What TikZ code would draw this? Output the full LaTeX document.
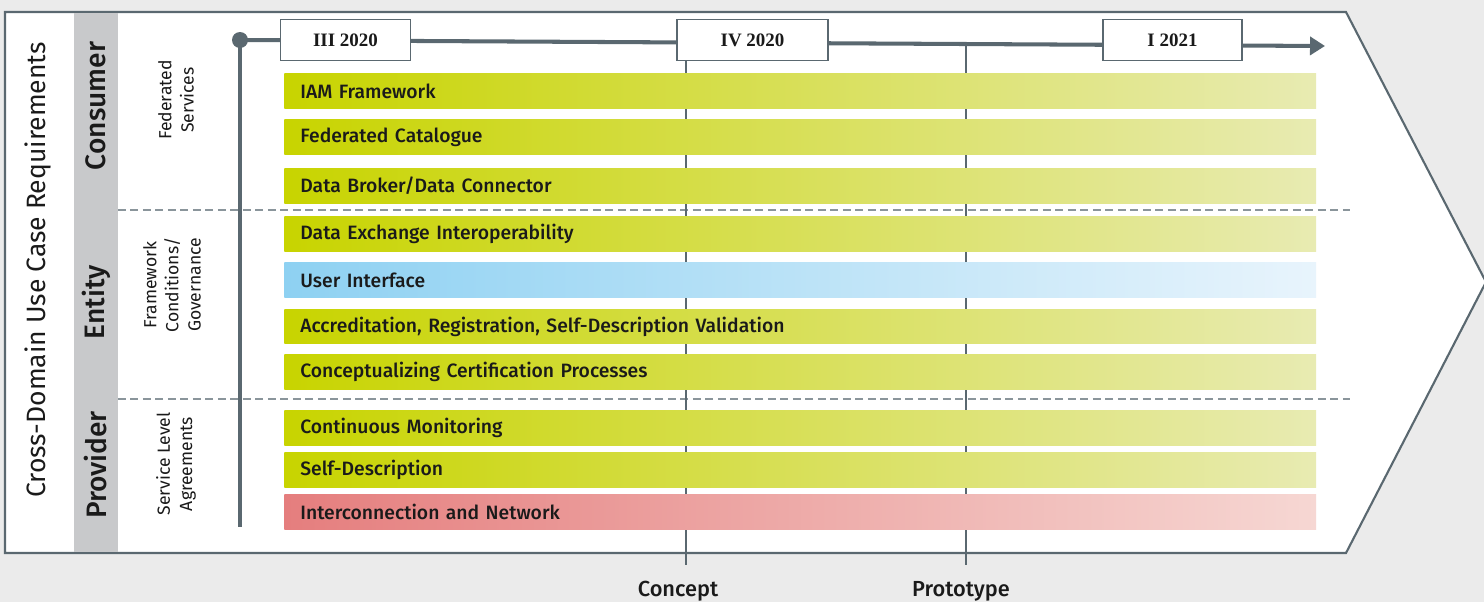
\documentclass[tikz,border=0pt]{standalone}
\usepackage{xcolor}
\usepackage{fontspec}
\setmainfont{Fira Sans}
\newfontfamily\barfont{Fira Sans Medium}
\newfontfamily\boxfont{Liberation Serif}
\usepackage{tikz}
\usetikzlibrary{arrows.meta,positioning}

\definecolor{slate}{HTML}{5A6870}
\definecolor{dashgray}{HTML}{8A959B}
\definecolor{colgray}{HTML}{C8C9CB}
\definecolor{bggray}{HTML}{EBEBEB}
\definecolor{greenL}{HTML}{C8D400}
\definecolor{greenR}{HTML}{E8EBB2}
\definecolor{blueL}{HTML}{8ED1F2}
\definecolor{blueR}{HTML}{E8F4FC}
\definecolor{redL}{HTML}{E57E7E}
\definecolor{redR}{HTML}{F6D7D3}
\definecolor{ink}{HTML}{1A1A1A}

\begin{document}
\begin{tikzpicture}[x=0.02cm, y=-0.02cm,
	outline/.style={draw=slate, line width=1.2pt},
	role/.style={rotate=90, font=\barfont\fontsize{16}{18}\selectfont, text=ink},
	area/.style={rotate=90, align=center, font=\fontsize{10}{12.6}\selectfont, text=ink},
	divider/.style={dashgray, line width=1.1pt, dash pattern=on 0.16cm off 0.09cm},
	axis/.style={slate, line width=2.3pt},
	mile/.style={slate, line width=1.1pt},
	quarter/.style={draw=slate, fill=white, line width=1.1pt, minimum width=2.6cm, minimum height=0.82cm, font=\boxfont\bfseries\fontsize{10.8}{12}\selectfont, text=ink},
	milestone/.style={font=\barfont\fontsize{12.4}{14}\selectfont, text=ink},
	bar/.style={anchor=west, minimum width=20.64cm, minimum height=0.69cm, text width=20cm, inner xsep=0.32cm, inner ysep=0, align=left, font=\barfont\fontsize{11}{13}\selectfont, text=ink},
	greenbar/.style={bar, left color=greenL, right color=greenR},
	]
	% Paths, nodes and wires:
	\fill[bggray] (0,0) rectangle (1484,602);
	\useasboundingbox (0,0) rectangle (1484,602);
	\draw[outline, fill=white] (5,12) -- (1346,12) -- (1486,282) -- (1346,553) -- (5,553) -- cycle;
	\fill[colgray] (74,13) rectangle (118,552);
	\node[rotate=90, font=\fontsize{15.1}{17}\selectfont, text=ink] (req) at (38,270) {Cross-Domain Use Case Requirements};
	\node[role] (consumer) at (96,106) {Consumer};
	\node[role] (entity) at (96,302) {Entity};
	\node[role] (provider) at (96,465) {Provider};
	\node[area] (fedserv) at (176,100) {Federated\\Services};
	\node[area] (govern) at (172,285) {Framework\\Conditions/\\Governance};
	\node[area] (sla) at (176,464) {Service Level\\Agreements};
	\draw[divider] (118,210) -- (1350,210);
	\draw[divider] (118,399) -- (1350,399);
	\node[circle, fill=slate, inner sep=0, minimum size=0.32cm] (start) at (240,40) {};
	\coordinate (tlend) at (1325,46);
	\coordinate (tlfoot) at (240,527);
	\draw[axis] (start.center) -- (tlfoot);
	\draw[axis, -{Triangle[length=0.3cm, width=0.36cm]}] (start.center) -- (tlend);
	\coordinate (cfoot) at (686,565);
	\coordinate (ptop) at (966,44);
	\coordinate (pfoot) at (966,565);
	\node[quarter] (q3) at (345.5,40) {III 2020};
	\node[quarter, minimum width=3.02cm] (q4) at (752.5,40) {IV 2020};
	\node[quarter, minimum width=2.78cm] (q1) at (1172.5,40) {I 2021};
	\draw[mile] (q4.south -| cfoot) -- (cfoot);
	\draw[mile] (ptop) -- (pfoot);
	\node[milestone] (concept) at (678,591) {Concept};
	\node[milestone] (prototype) at (961,591) {Prototype};
	\node[greenbar] (iam) at (284,91) {IAM Framework};
	\node[greenbar] (catalogue) at (284,137) {Federated Catalogue};
	\node[greenbar] (broker) at (284,186) {Data Broker/Data Connector};
	\node[greenbar] (exchange) at (284,234) {Data Exchange Interoperability};
	\node[bar, left color=blueL, right color=blueR] (ui) at (284,280) {User Interface};
	\node[greenbar] (accred) at (284,326.5) {Accreditation, Registration, Self-Description Validation};
	\node[greenbar] (cert) at (284,372) {Conceptualizing Certification Processes};
	\node[greenbar] (monitor) at (284,428) {Continuous Monitoring};
	\node[greenbar] (selfdesc) at (284,470) {Self-Description};
	\node[bar, left color=redL, right color=redR] (network) at (284,512) {Interconnection and Network};
\end{tikzpicture}
\end{document}
